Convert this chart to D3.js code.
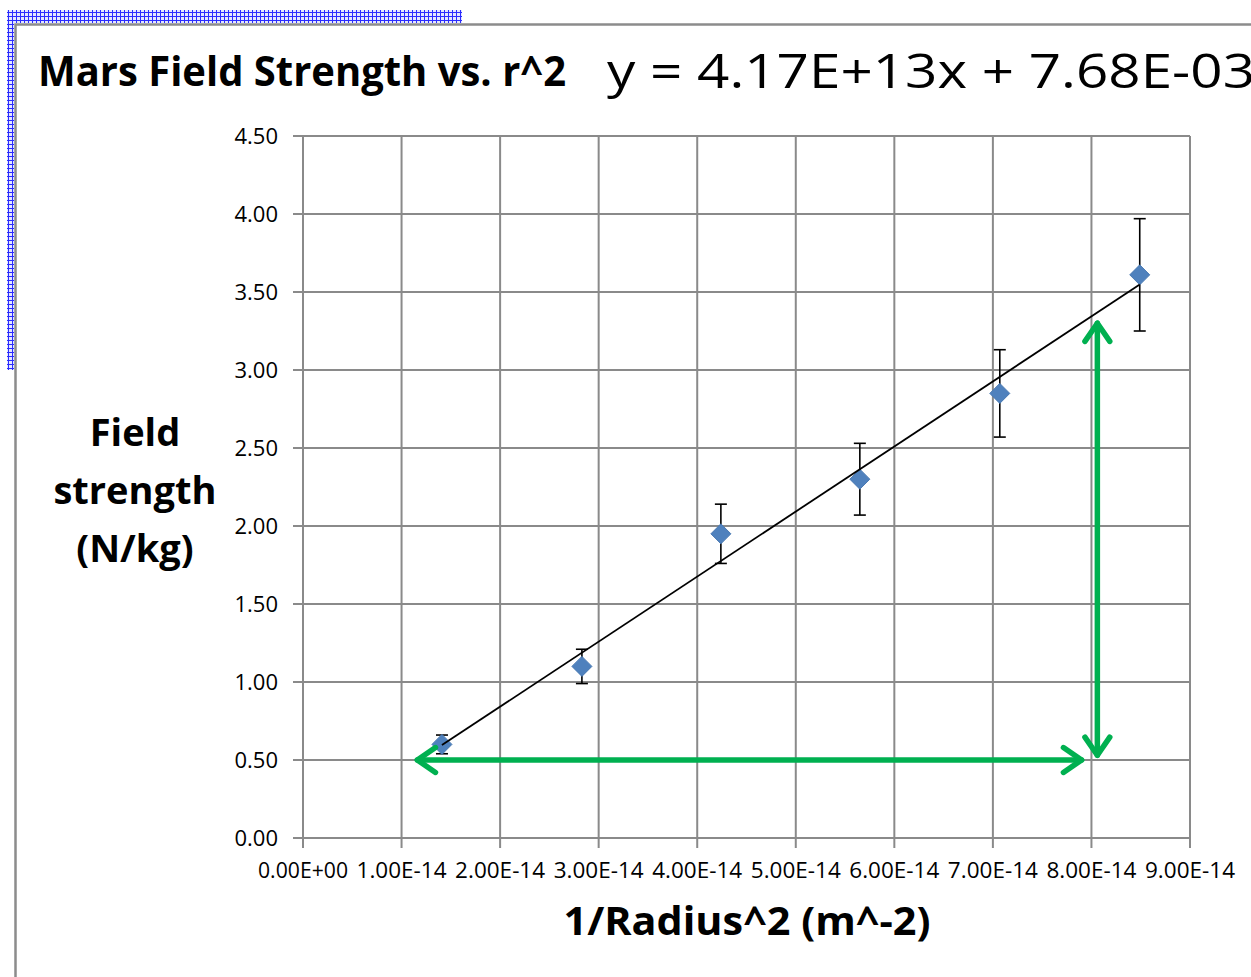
<!DOCTYPE html>
<html>
<head>
<meta charset="utf-8">
<script src="https://cdn.jsdelivr.net/npm/d3@7"></script>
<style>
  html, body { margin: 0; padding: 0; background: #fff; overflow: hidden; }
  svg { display: block; font-family: "Open Sans", "Noto Sans", sans-serif; }
</style>
</head>
<body>
<svg id="chart" width="1251" height="977"></svg>
<script>
// données
var xValues = [1.41e-14, 2.83e-14, 4.24e-14, 5.65e-14, 7.07e-14, 8.49e-14];
var yValues = [0.60, 1.10, 1.95, 2.30, 2.85, 3.61];
var yErrors = [0.06, 0.11, 0.19, 0.23, 0.28, 0.36];
var xTicks = [0, 1e-14, 2e-14, 3e-14, 4e-14, 5e-14, 6e-14, 7e-14, 8e-14, 9e-14];
var yTicks = [0, 0.5, 1, 1.5, 2, 2.5, 3, 3.5, 4, 4.5];
var slope = 4.17e13, intercept = 7.68e-3;
// flèches vertes (coordonnées en unités du graphique)
var hArrow = [[1.16e-14, 0.5], [7.9e-14, 0.5]];
var vArrow = [[8.06e-14, 0.53], [8.06e-14, 3.30]];

var svg = d3.select("#chart");

var x = d3.scaleLinear().domain([0, 9e-14]).range([303, 1190]);
var y = d3.scaleLinear().domain([0, 4.5]).range([838, 136]);

// poignées de sélection (motif quadrillé bleu)
var defs = svg.append("defs");
var pat = defs.append("pattern").attr("id", "hatch")
    .attr("patternUnits", "userSpaceOnUse").attr("width", 4).attr("height", 4);
pat.append("rect").attr("width", 4).attr("height", 4).attr("fill", "#e4e7ff");
pat.append("path").attr("d", "M0,0.5H4M0.5,0V4").attr("stroke", "#2b2bff").attr("stroke-width", 1);

svg.append("rect").attr("x", 7).attr("y", 10).attr("width", 455).attr("height", 13).attr("fill", "url(#hatch)");
svg.append("rect").attr("x", 7).attr("y", 10).attr("width", 7).attr("height", 360).attr("fill", "url(#hatch)");

// cadre du graphique
svg.append("path").attr("d", "M15.5,977V24.5H1251")
    .attr("fill", "none").attr("stroke", "#8c8c8c").attr("stroke-width", 2.5);

// grille
var g = svg.append("g");
g.selectAll(".hgrid").data(yTicks).enter().append("line")
    .attr("x1", 293).attr("x2", 1190)
    .attr("y1", function(d) { return y(d); }).attr("y2", function(d) { return y(d); })
    .attr("stroke", "#8a8a8a").attr("stroke-width", 2);
g.selectAll(".vgrid").data(xTicks).enter().append("line")
    .attr("x1", function(d) { return x(d); }).attr("x2", function(d) { return x(d); })
    .attr("y1", 136).attr("y2", 848)
    .attr("stroke", "#8a8a8a").attr("stroke-width", 2);

// étiquettes des axes
var fmtY = d3.format(".2f");
function fmtX(d) {
  if (d === 0) return "0.00E+00";
  var e = Math.floor(Math.log10(d) + 1e-9);
  var m = d / Math.pow(10, e);
  return m.toFixed(2) + "E" + (e < 0 ? "-" : "+") + String(Math.abs(e)).padStart(2, "0");
}
g.selectAll(".ylab").data(yTicks).enter().append("text")
    .attr("x", 278).attr("y", function(d) { return y(d) + 8; })
    .attr("text-anchor", "end").attr("font-size", 22).attr("fill", "#000")
    .text(fmtY);
g.selectAll(".xlab").data(xTicks).enter().append("text")
    .attr("x", function(d) { return x(d); }).attr("y", 878)
    .attr("text-anchor", "middle").attr("font-size", 21).attr("fill", "#000")
    .attr("textLength", 90).attr("lengthAdjust", "spacingAndGlyphs")
    .text(fmtX);

// barres d'erreur
var eb = svg.append("g").attr("stroke", "#000").attr("stroke-width", 1.6);
xValues.forEach(function(xv, i) {
  var px = x(xv), top = y(yValues[i] + yErrors[i]), bot = y(yValues[i] - yErrors[i]);
  eb.append("line").attr("x1", px).attr("x2", px).attr("y1", top).attr("y2", bot);
  eb.append("line").attr("x1", px - 6).attr("x2", px + 6).attr("y1", top).attr("y2", top);
  eb.append("line").attr("x1", px - 6).attr("x2", px + 6).attr("y1", bot).attr("y2", bot);
});

// points (losanges)
svg.append("g").selectAll("path").data(xValues).enter().append("path")
    .attr("transform", function(d, i) { return "translate(" + x(d) + "," + y(yValues[i]) + ")"; })
    .attr("d", "M0,-10L10,0L0,10L-10,0Z")
    .attr("fill", "#4f81bd").attr("stroke", "#4a7ab3").attr("stroke-width", 1);

// courbe de tendance
var x0 = xValues[0], x1 = xValues[xValues.length - 1];
svg.append("line")
    .attr("x1", x(x0)).attr("y1", y(slope * x0 + intercept))
    .attr("x2", x(x1)).attr("y2", y(slope * x1 + intercept))
    .attr("stroke", "#000").attr("stroke-width", 1.8);

// flèches vertes
function arrow(p, q) {
  var a = [x(p[0]), y(p[1])], b = [x(q[0]), y(q[1])];
  var ang = Math.atan2(b[1] - a[1], b[0] - a[0]);
  var gA = svg.append("g").attr("stroke", "#00b050").attr("stroke-width", 5.5)
      .attr("stroke-linecap", "round").attr("stroke-linejoin", "round").attr("fill", "none");
  gA.append("line").attr("x1", a[0]).attr("y1", a[1]).attr("x2", b[0]).attr("y2", b[1]);
  [[a, ang + Math.PI], [b, ang]].forEach(function(h) {
    var tip = h[0], t = h[1], L = 22, w = 0.6;
    var p1 = [tip[0] - L * Math.cos(t - w), tip[1] - L * Math.sin(t - w)];
    var p2 = [tip[0] - L * Math.cos(t + w), tip[1] - L * Math.sin(t + w)];
    gA.append("path").attr("d", "M" + p1 + "L" + tip + "L" + p2);
  });
}
arrow(hArrow[0], hArrow[1]);
arrow(vArrow[0], vArrow[1]);

// titres
svg.append("text").attr("x", 38).attr("y", 86)
    .attr("font-size", 41).attr("font-weight", "bold")
    .attr("textLength", 528).attr("lengthAdjust", "spacingAndGlyphs")
    .text("Mars Field Strength vs. r^2");
svg.append("text").attr("x", 607).attr("y", 88)
    .attr("font-size", 47)
    .attr("textLength", 648).attr("lengthAdjust", "spacingAndGlyphs")
    .text("y = 4.17E+13x + 7.68E-03");

var yTitle = ["Field", "strength", "(N/kg)"];
svg.append("g").selectAll("text").data(yTitle).enter().append("text")
    .attr("x", 135).attr("y", function(d, i) { return 446 + i * 58; })
    .attr("text-anchor", "middle").attr("font-size", 38).attr("font-weight", "bold")
    .text(function(d) { return d; });

svg.append("text").attr("x", 747).attr("y", 935)
    .attr("text-anchor", "middle").attr("font-size", 39).attr("font-weight", "bold")
    .attr("textLength", 367).attr("lengthAdjust", "spacingAndGlyphs")
    .text("1/Radius^2 (m^-2)");
</script>
</body>
</html>
